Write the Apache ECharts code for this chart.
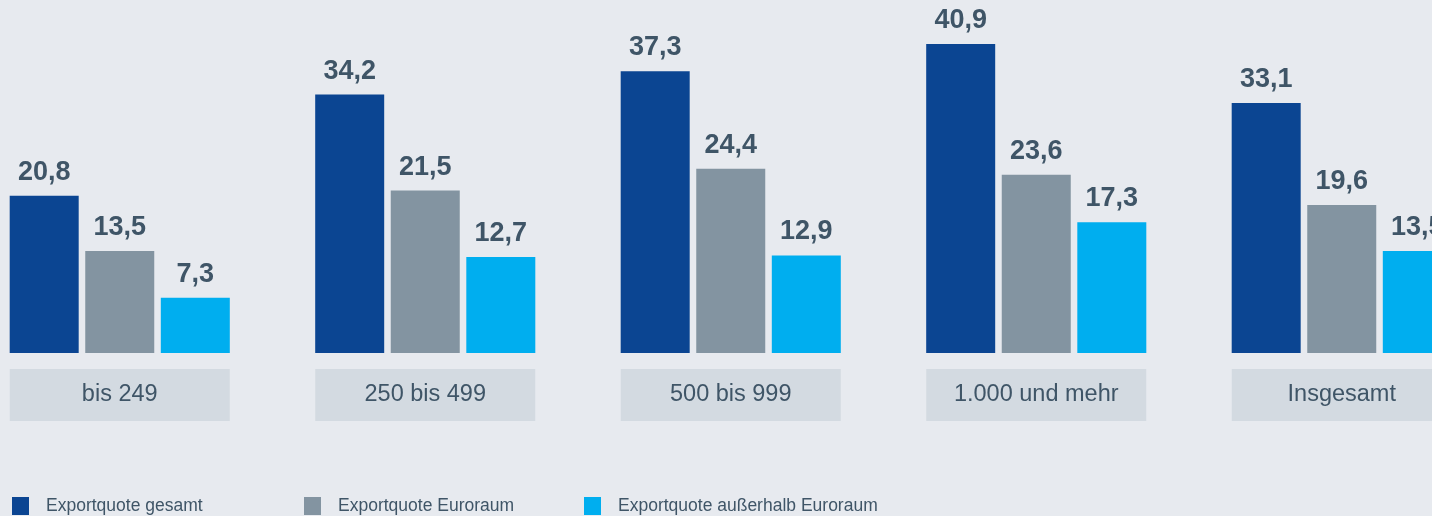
<!DOCTYPE html>
<html>
<head>
<meta charset="utf-8">
<script src="https://cdn.jsdelivr.net/npm/echarts@6/dist/echarts.min.js"></script>
<style>
  html, body { margin: 0; padding: 0; background: #e7eaef; }
  #main { width: 1432px; height: 516px; }
</style>
</head>
<body>
<div id="main"></div>
<script>
// Daten
var kategorien = ['bis 249', '250 bis 499', '500 bis 999', '1.000 und mehr', 'Insgesamt'];
var serienNamen = ['Exportquote gesamt', 'Exportquote Euroraum', 'Exportquote außerhalb Euroraum'];
var gesamt = [20.8, 34.2, 37.3, 40.9, 33.1];
var euroraum = [13.5, 21.5, 24.4, 23.6, 19.6];
var ausserhalb = [7.3, 12.7, 12.9, 17.3, 13.5];

var farben = ['#0b4592', '#8394a1', '#00aeef'];
var textFarbe = '#3f5567';
var schrift = 'Liberation Sans, Arial, Helvetica, sans-serif';

var myChart = echarts.init(document.getElementById('main'));

// Werte mit Komma
function komma(p) {
    return p.value.toFixed(1).replace('.', ',');
}

function serie(name, werte, farbe) {
    return {
        name: name,
        type: 'bar',
        data: werte,
        barWidth: 69,
        barGap: '9.5%',
        itemStyle: { color: farbe },
        label: {
            show: true,
            position: 'top',
            distance: 10,
            formatter: komma,
            color: textFarbe,
            fontFamily: schrift,
            fontWeight: 'bold',
            fontSize: 27
        }
    };
}

// eine Legende pro Eintrag, damit die Abstände passen
var legendenLinks = [12, 304, 584];
var legenden = [];
for (var i = 0; i < serienNamen.length; i++) {
    legenden.push({
        data: [serienNamen[i]],
        left: legendenLinks[i],
        top: 497,
        padding: 0,
        itemWidth: 17,
        itemHeight: 18,
        icon: 'rect',
        textStyle: { color: textFarbe, fontSize: 17.5, fontFamily: schrift, padding: [0, 0, 0, 12] },
        selectedMode: false
    });
}

var option = {
    backgroundColor: '#e7eaef',
    animation: false,
    legend: legenden,
    grid: { left: -33, width: 1527.5, top: 13, bottom: 163, containLabel: false, outerBoundsMode: 'none' },
    xAxis: {
        type: 'category',
        data: kategorien,
        axisLine: { show: false },
        axisTick: { show: false },
        axisLabel: {
            margin: 16,
            interval: 0,
            color: textFarbe,
            fontFamily: schrift,
            fontSize: 23.5,
            backgroundColor: '#d3dae1',
            width: 220,
            height: 52,
            lineHeight: 52,
            align: 'center'
        }
    },
    yAxis: {
        type: 'value',
        min: 0,
        max: 45,
        show: false,
        splitLine: { show: false }
    },
    series: [
        serie(serienNamen[0], gesamt, farben[0]),
        serie(serienNamen[1], euroraum, farben[1]),
        serie(serienNamen[2], ausserhalb, farben[2])
    ]
};

myChart.setOption(option);
window.onresize = myChart.resize;
</script>
</body>
</html>
